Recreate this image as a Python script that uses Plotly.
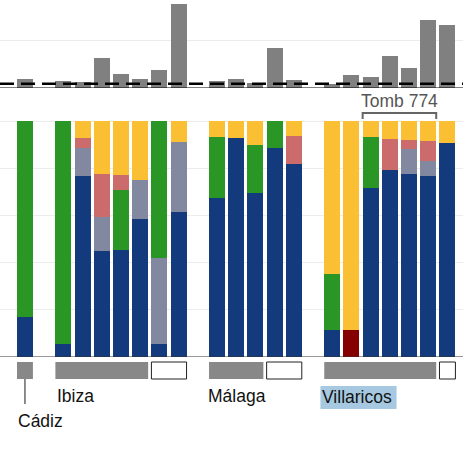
import plotly.graph_objects as go

slots = list(range(23))
# stacked percentages per slot (None = empty slot)
blue   = [17, None, 5.6, 76.7, 45, 45.4, 58.5, 5.6, 61.5, None, 67.4, 92.7, 69.5, 88.6, 81.8, None, 11.6, 0, 71.6, 79.3, 77.6, 76.7, 90.7]
darkred= [0, None, 0, 0, 0, 0, 0, 0, 0, None, 0, 0, 0, 0, 0, None, 0, 11.6, 0, 0, 0, 0, 0]
gray   = [0, None, 0, 12, 14.5, 0, 16.5, 36.4, 29.6, None, 0, 0, 0, 0, 0, None, 0, 0, 0, 0, 10.4, 6.4, 0]
green  = [83, None, 94.4, 0, 0, 25.4, 0, 58, 0, None, 25.7, 0, 20.3, 11.4, 0, None, 23.7, 0, 21.6, 0, 0, 0, 0]
red    = [0, None, 0, 4.1, 18.1, 6.4, 0, 0, 0, None, 0, 0, 0, 0, 11.9, None, 0, 0, 0, 13.1, 4, 8.4, 0]
yellow = [0, None, 0, 7.2, 22.4, 22.8, 25, 0, 8.9, None, 6.9, 7.3, 10.2, 0, 6.3, None, 64.7, 88.4, 6.8, 7.6, 8, 8.5, 9.3]
counts = [19, None, 15, 13, 64, 30, 19, 38, 179, None, 15, 19, 11, 85, 17, None, 9, 28, 23, 68, 43, 145, 134]
threshold = 9

# site groups: (label, first slot, last gray slot, white-box range)
groups = [("Ibiza", 2, 6, (7, 8)), ("Málaga", 10, 12, (13, 14)), ("Villaricos", 16, 21, (22, 22))]

W, H = 476, 455
def py(y):
    return 1 - y / H

fig = go.Figure()
series = [(blue, "#123a7c"), (darkred, "#850000"), (gray, "#82889f"),
          (green, "#2a9625"), (red, "#cc6b6b"), (yellow, "#fbbf33")]
for vals, col in series:
    fig.add_trace(go.Bar(x=slots, y=vals, marker=dict(color=col, line=dict(width=0)),
                         width=0.83, showlegend=False, xaxis="x", yaxis="y"))
fig.add_trace(go.Bar(x=slots, y=counts, marker=dict(color="#808080", line=dict(width=0)),
                     width=0.83, showlegend=False, xaxis="x", yaxis="y2"))

shapes = []
shapes.append(dict(type="line", xref="paper", yref="y2", x0=0, x1=1, y0=threshold, y1=threshold,
                   line=dict(color="black", width=2.5, dash="14px,7px")))
shapes.append(dict(type="line", xref="paper", yref="y2", x0=0, x1=1, y0=0, y1=0,
                   line=dict(color="black", width=1)))
shapes.append(dict(type="line", xref="paper", yref="y", x0=0, x1=1, y0=0, y1=0,
                   line=dict(color="#333", width=1.2)))
bw = 0.83 / 2
y0b, y1b = py(362), py(379)
shapes.append(dict(type="rect", xref="x", yref="paper", x0=0 - bw, x1=0 + bw, y0=y1b, y1=y0b,
                   fillcolor="#888", line=dict(width=0)))
shapes.append(dict(type="line", xref="x", yref="paper", x0=0, x1=0, y0=py(379), y1=py(404),
                   line=dict(color="#666", width=1.5)))
for name, a, b, (c, d) in groups:
    shapes.append(dict(type="rect", xref="x", yref="paper", x0=a - bw, x1=b + bw, y0=y1b, y1=y0b,
                       fillcolor="#888", line=dict(width=0)))
    shapes.append(dict(type="rect", xref="x", yref="paper", x0=c - bw, x1=d + bw, y0=y1b, y1=y0b,
                       fillcolor="white", line=dict(color="#222", width=1)))
# Villaricos highlight
shapes.append(dict(type="rect", xref="x", yref="paper", x0=16 - bw - 0.2, x1=19.35, y0=py(409), y1=py(386),
                   fillcolor="#a6c8e0", line=dict(width=0), layer="below"))
# Tomb 774 bracket
shapes.append(dict(type="path", xref="x", yref="paper",
                   path=f"M {18-bw},{py(119)} L {18-bw},{py(113)} L {21+bw},{py(113)} L {21+bw},{py(119)}",
                   line=dict(color="#666", width=2)))

f = dict(family="Liberation Sans, Arial", size=17.5, color="#111")
ann = [
    dict(x=2 - bw, y=py(396), text="Ibiza", xanchor="left"),
    dict(x=10 - bw - 0.15, y=py(396), text="Málaga", xanchor="left"),
    dict(x=16 - bw - 0.2, y=py(397), text="Villaricos", xanchor="left"),
    dict(x=0 - bw - 0.05, y=py(421), text="Cádiz", xanchor="left"),
]
annotations = [dict(xref="x", yref="paper", yanchor="middle", showarrow=False, font=f, **a) for a in ann]
annotations.append(dict(xref="x", yref="paper", x=19.5, y=py(101), text="Tomb 774", showarrow=False,
                        font=dict(family="Liberation Sans, Arial", size=17.5, color="#555"), yanchor="middle"))

fig.update_layout(
    width=W, height=H, margin=dict(l=0, r=13, t=0, b=0),
    barmode="stack", bargap=0, plot_bgcolor="white", paper_bgcolor="white",
    xaxis=dict(range=[-1.30, 22.81], showticklabels=False, showgrid=False, zeroline=False, ticks=""),
    yaxis=dict(domain=[py(357), py(120)], range=[0, 100.5], tickvals=[20, 40, 60, 80, 100],
               showticklabels=False, gridcolor="#ececec", zeroline=False, ticks=""),
    yaxis2=dict(domain=[py(88), 1], range=[0, 187], tickvals=[100], showticklabels=False,
                gridcolor="#ececec", zeroline=False, ticks=""),
    shapes=shapes, annotations=annotations,
)
fig.write_html("out.html", config={"displayModeBar": False},
               post_script="document.body.style.margin='0';document.body.style.overflow='hidden';")
